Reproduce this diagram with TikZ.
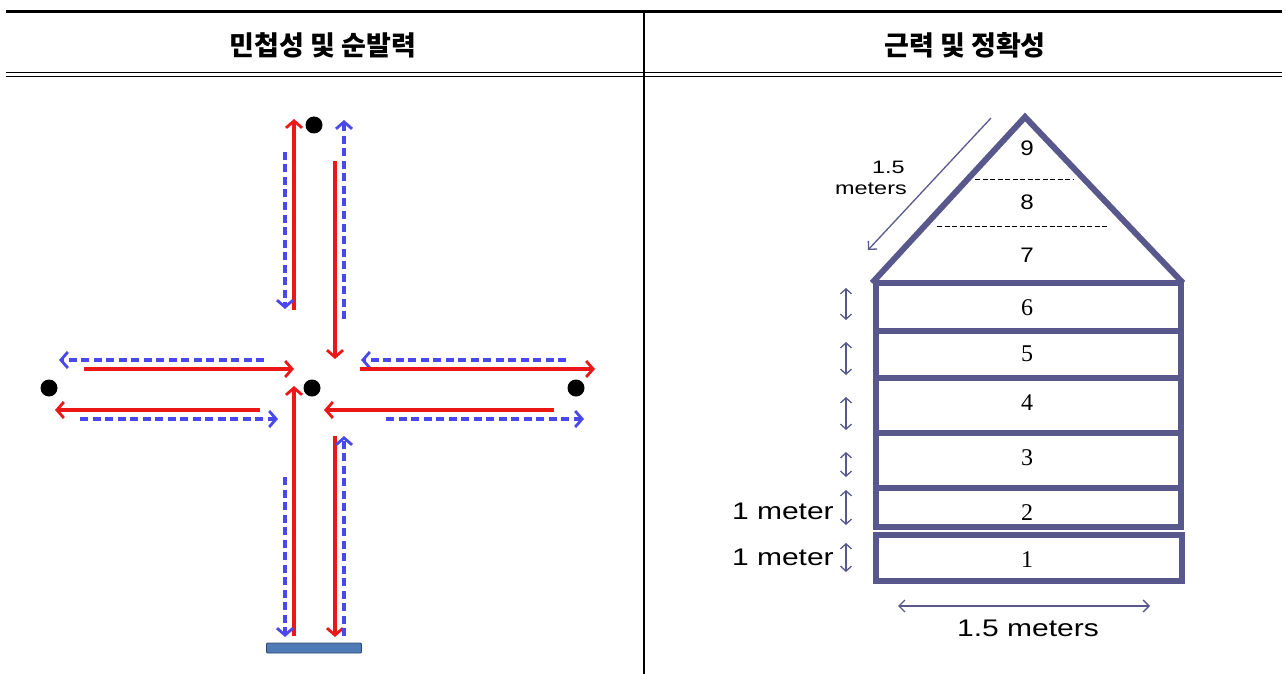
\documentclass[tikz,border=0pt]{standalone}
\usepackage{fontspec}
\setmainfont{Liberation Sans}
\newfontfamily\krfont{Noto Sans CJK KR}
\newfontfamily\numfont{Liberation Serif}
\usepackage{xcolor}
\usetikzlibrary{arrows.meta}

\definecolor{housecol}{RGB}{88,88,140}
\definecolor{runred}{RGB}{236,24,24}
\definecolor{runblue}{RGB}{72,72,236}
\definecolor{barblue}{RGB}{79,122,182}

\tikzset{
  redarr/.style={runred, line width=3.4pt,
    -{Straight Barb[length=7pt,width=16pt,line width=2.8pt]}},
  bluearr/.style={runblue, line width=3.2pt, dash pattern=on 8pt off 4.5pt,
    -{Straight Barb[length=7pt,width=16pt,line width=2.8pt]}},
  cone/.style={circle, fill=black, inner sep=0pt, minimum size=17pt},
  wall/.style={housecol, line width=6pt, line join=miter},
  measure/.style={housecol, line width=1.3pt},
  dbl/.style={measure, {Straight Barb[length=5pt,width=11pt]}-{Straight Barb[length=5pt,width=11pt]}},
  boxnum/.style={font=\numfont\fontsize{24}{26}\selectfont, inner sep=0pt},
  roofnum/.style={font=\fontsize{21}{23}\selectfont, inner sep=0pt, xscale=1.15},
  meterlbl/.style={font=\fontsize{24}{26}\selectfont, inner sep=0pt, xscale=1.25},
  slantlbl/.style={font=\fontsize{18}{20}\selectfont, inner sep=0pt, xscale=1.3, anchor=east},
  head/.style={font=\krfont\bfseries\fontsize{27}{29}\selectfont, inner sep=0pt},
}

\begin{document}
\begin{tikzpicture}[x=1pt,y=-1pt]
  \useasboundingbox (0,0) rectangle (1286,674);

  % table frame
  \draw[line width=3pt] (6,12) -- (1282,12);
  \draw[line width=1pt] (6,72.5) -- (1282,72.5);
  \draw[line width=1pt] (6,76.5) -- (1282,76.5);
  \draw[line width=2pt] (644,12) -- (644,674);
  \node[head] (agility) at (323,45) {민첩성 및 순발력};
  \node[head] (strength) at (965,45) {근력 및 정확성};

  % agility course
  \node[cone] (ctop) at (314,125) {};
  \node[cone] (cmid) at (312,388) {};
  \node[cone] (clft) at (49,388) {};
  \node[cone] (crgt) at (576,388) {};
  \node[draw=barblue!60!black, fill=barblue, line width=0.8pt, rounded corners=1pt, minimum width=95pt, minimum height=10pt, inner sep=0pt] (start) at (314,648) {};

  \draw[redarr] (294,310) -- (294,119);
  \draw[bluearr] (285,152) -- (285,309);
  \draw[redarr] (335,161) -- (335,359);
  \draw[bluearr] (344,319) -- (344,120);

  \draw[bluearr] (264,360) -- (59,360);
  \draw[redarr] (84,369) -- (294,369);
  \draw[redarr] (260,410) -- (55,410);
  \draw[bluearr] (80,419) -- (278,419);

  \draw[bluearr] (566,360) -- (361,360);
  \draw[redarr] (360,369) -- (595,369);
  \draw[redarr] (554,410) -- (324,410);
  \draw[bluearr] (386,419) -- (584,419);

  \draw[redarr] (294,636) -- (294,386);
  \draw[bluearr] (285,477) -- (285,637);
  \draw[redarr] (335,436) -- (335,637);
  \draw[bluearr] (344,636) -- (344,436);

  % target house
  \draw[wall] (872,283) -- (1025,117) -- (1183,283);
  \draw[wall] (876,283) rectangle (1181,527);
  \draw[wall] (876,331) -- (1181,331);
  \draw[wall] (876,378) -- (1181,378);
  \draw[wall] (876,433) -- (1181,433);
  \draw[wall] (876,488) -- (1181,488);
  \draw[wall] (876,535) rectangle (1182,581);
  \draw[black, line width=1pt, dash pattern=on 5pt off 2.5pt] (975,180) -- (1074,180);
  \draw[black, line width=1pt, dash pattern=on 5pt off 2.5pt] (937,226) -- (1108,226);

  \node[roofnum] (z9) at (1027,148) {9};
  \node[roofnum] (z8) at (1027,202) {8};
  \node[roofnum] (z7) at (1027,255) {7};
  \node[boxnum] (z6) at (1027,308) {6};
  \node[boxnum] (z5) at (1027,354) {5};
  \node[boxnum] (z4) at (1027,403) {4};
  \node[boxnum] (z3) at (1027,458) {3};
  \node[boxnum] (z2) at (1027,513) {2};
  \node[boxnum] (z1) at (1027,560) {1};

  \draw[measure, -{Straight Barb[length=6pt,width=12pt]}] (991,118) -- (868,250);
  \node[slantlbl] (slant) at (905,167) {1.5};
  \node[slantlbl] (slantunit) at (907,189) {meters};

  \draw[dbl] (846,288) -- (846,320);
  \draw[dbl] (846,342) -- (846,375);
  \draw[dbl] (846,397) -- (846,430);
  \draw[dbl] (846,452) -- (846,477);
  \draw[dbl] (846,490) -- (846,525);
  \draw[dbl] (846,543) -- (846,572);
  \node[meterlbl, anchor=east] (m2) at (834,511) {1 meter};
  \node[meterlbl, anchor=east] (m1) at (834,557) {1 meter};

  \draw[measure, {Straight Barb[length=6pt,width=12pt]}-{Straight Barb[length=6pt,width=12pt]}] (898,606) -- (1150,606);
  \node[meterlbl] (width) at (1028,628) {1.5 meters};
\end{tikzpicture}
\end{document}
